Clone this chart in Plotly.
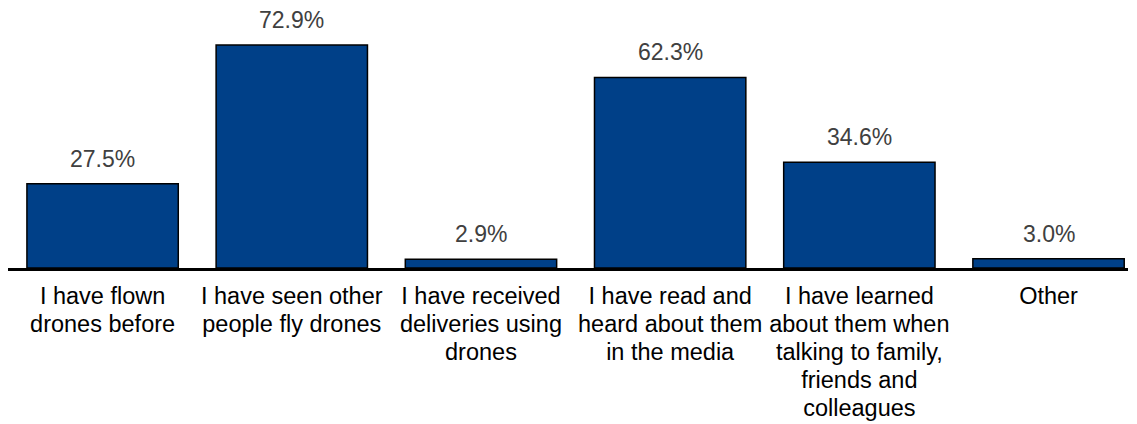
import plotly.graph_objects as go

categories = [
    "I have flown<br>drones before",
    "I have seen other<br>people fly drones",
    "I have received<br>deliveries using<br>drones",
    "I have read and<br>heard about them<br>in the media",
    "I have learned<br>about them when<br>talking to family,<br>friends and<br>colleagues",
    "Other",
]
values = [27.5, 72.9, 2.9, 62.3, 34.6, 3.0]
labels = ["27.5%", "72.9%", "2.9%", "62.3%", "34.6%", "3.0%"]

xs = list(range(len(categories)))
FONT = "Liberation Sans, Arial, sans-serif"

# larger glyphs with tighter line spacing (line spacing follows base tick font size)
ticktext = ["<br>".join(f"<span style='font-size:23.5px'>{ln}</span>" for ln in c.split("<br>"))
            for c in categories]

fig = go.Figure()
fig.add_trace(go.Bar(
    x=xs, y=values,
    width=0.80,
    marker=dict(color="#004088", line=dict(color="#000000", width=1.5)),
    hoverinfo="skip",
))

for x, v, t in zip(xs, values, labels):
    fig.add_annotation(x=x, y=v, text=t, showarrow=False, yanchor="bottom",
                       yshift=10, font=dict(family=FONT, size=23, color="#404040"))

fig.update_layout(
    width=1137, height=424,
    margin=dict(l=8, r=9, t=0, b=156, autoexpand=False),
    plot_bgcolor="white", paper_bgcolor="white",
    showlegend=False,
    font=dict(family=FONT, size=21.5, color="#000000"),
    xaxis=dict(
        range=[-0.5, 5.42],
        tickmode="array", tickvals=xs, ticktext=ticktext,
        showline=True, linecolor="#000000", linewidth=3,
        ticks="", showgrid=False, zeroline=False,
        tickfont=dict(size=21.5, color="#000000"),
        ticklabelstandoff=7,
        automargin=False,
    ),
    yaxis=dict(range=[0, 87.6], visible=False, showgrid=False, zeroline=False),
)

fig.write_html("out.html", config={"displayModeBar": False, "staticPlot": True},
               post_script="document.body.style.margin='0';")
